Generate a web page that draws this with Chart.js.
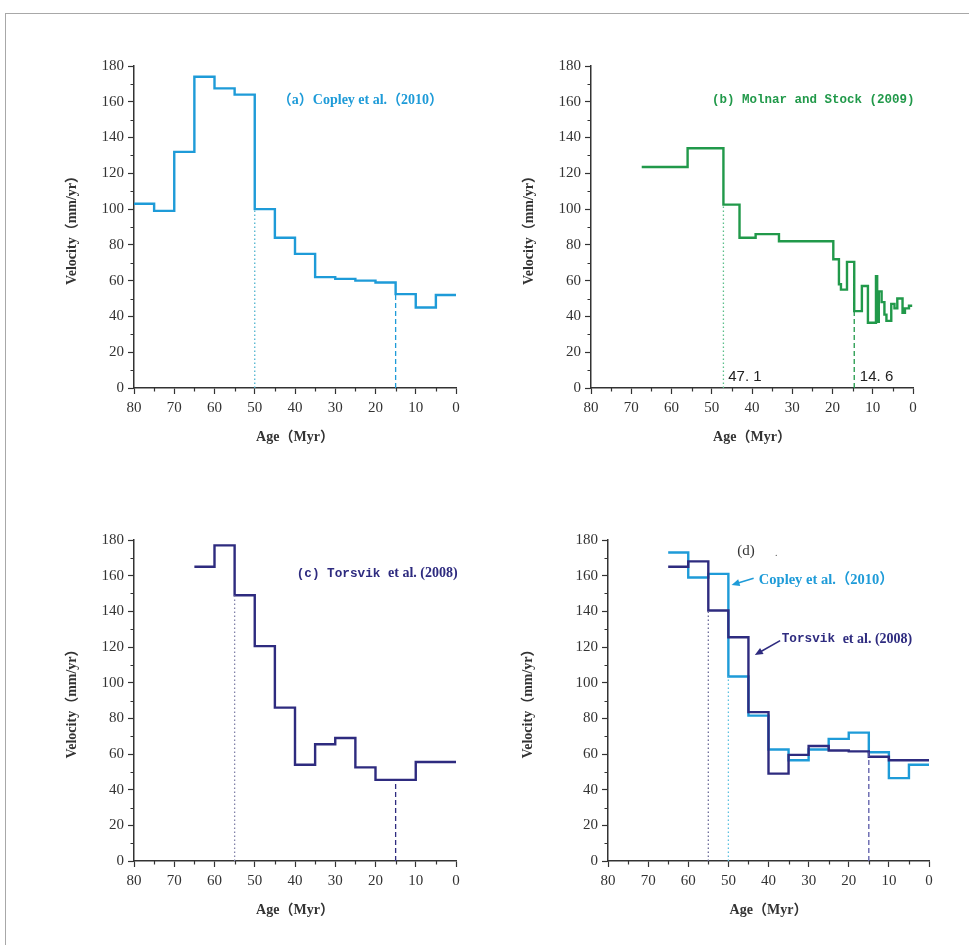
<!DOCTYPE html>
<html>
<head>
<meta charset="utf-8">
<script src="https://cdn.jsdelivr.net/npm/chart.js@4.4.1/dist/chart.umd.min.js"></script>
<style>
  body { margin: 0; background: #fff; width: 969px; height: 945px; position: relative; overflow: hidden; }
  #frame { position: absolute; left: 5px; top: 13px; width: 990px; height: 990px; border-top: 1px solid #a8a8a8; border-left: 1px solid #a8a8a8; }
  canvas { position: absolute; }
</style>
</head>
<body>
<div id="frame"></div>
<canvas id="chartA" width="440" height="400" style="left:40px;top:50px"></canvas>
<canvas id="chartB" width="440" height="400" style="left:497px;top:50px"></canvas>
<canvas id="chartC" width="440" height="399" style="left:40px;top:524px"></canvas>
<canvas id="chartD" width="439" height="399" style="left:514px;top:524px"></canvas>
<script>
// Данные панели (a): Copley et al. (2010), начало каждого интервала (млн лет) и скорость
const copleyAgeA = [80, 75, 70, 65, 60, 55, 50, 45, 40, 35, 30, 25, 20, 15, 10, 5, 0];
const copleyVelA = [103, 99, 132, 174, 167.5, 164, 100, 84, 75, 62, 61, 60, 59, 52.5, 45, 52, 52];

// Панель (b): Molnar and Stock (2009)
const molnarAge = [67.4, 56, 47.1, 43.1, 39.1, 33.3, 19.8, 18.4, 17.9, 16.4, 14.6, 12.7, 11.2, 9.2, 8.9, 8.5, 7.8, 7.1, 6.6, 5.4, 4.6, 3.9, 2.6, 2.0, 1.0, 0.2];
const molnarVel = [123.5, 134, 102.5, 84, 86, 82, 72, 58, 55, 70.5, 43, 57, 36.5, 62.5, 37, 54, 48, 41, 37.5, 47, 44.5, 50, 42, 44.5, 46, 46];

// Панель (c): Torsvik et al. (2008)
const torsvikAgeC = [65, 60, 55, 50, 45, 40, 35, 30, 25, 20, 15, 10, 5, 0];
const torsvikVelC = [165, 177, 149, 120.5, 86, 54, 65.5, 69, 52.5, 45.5, 45.5, 55.5, 55.5, 55.5];

// Панель (d): сравнение двух моделей
const compareAge = [65, 60, 55, 50, 45, 40, 35, 30, 25, 20, 15, 10, 5, 0];
const copleyVelD = [173, 159, 161, 103.5, 81.5, 62.5, 56.5, 62.5, 68.5, 72, 61, 46.5, 54, 54];
const torsvikVelD = [165, 168, 140.5, 125.5, 83.5, 49, 59.5, 64.5, 62, 61.5, 58.5, 56.5, 56.5, 56.5];

// Вертикальные отметки: возраст и высота линии
const markAgeA = [50, 15];   const markTopA = [100, 52.5];
const markAgeB = [47.1, 14.6]; const markTopB = [102.5, 43];
const markAgeC = [55, 15];   const markTopC = [149, 45.5];
const markAgeD = [55, 50, 15]; const markTopD = [140.5, 103.5, 61];

const xTicks = [80, 70, 60, 50, 40, 30, 20, 10, 0];
const yTicks = [0, 20, 40, 60, 80, 100, 120, 140, 160, 180];

const BLUE = '#1e9bd8';
const GREEN = '#21994a';
const NAVY = '#2e2b7f';
const AXIS = '#333';
const SERIF = '"Liberation Serif", "Noto Sans CJK SC", serif';
const MONO = '"Liberation Mono", "DejaVu Sans Mono", monospace';

function stepPoints(ages, vels) {
    return ages.map((a, i) => ({ x: a, y: vels[i] }));
}

function stepSet(ages, vels, color) {
    return {
        data: stepPoints(ages, vels),
        borderColor: color,
        borderWidth: 2.4,
        stepped: 'before',
        pointRadius: 0,
        fill: false
    };
}

function markSet(age, top, color, dash) {
    return {
        data: [{ x: age, y: 0 }, { x: age, y: top }],
        borderColor: color,
        borderWidth: 1.3,
        borderDash: dash,
        pointRadius: 0,
        fill: false
    };
}

const DOT = [1.5, 2.5];
const DASH = [5, 3];

// Короткие промежуточные деления осей
const minorTicks = {
    id: 'minorTicks',
    afterDraw(chart) {
        const { ctx, chartArea, scales: { x, y } } = chart;
        ctx.save();
        ctx.strokeStyle = AXIS;
        ctx.lineWidth = 1.2;
        ctx.beginPath();
        for (let v = 5; v < 80; v += 10) {
            const px = Math.round(x.getPixelForValue(v)) + 0.5;
            ctx.moveTo(px, chartArea.bottom);
            ctx.lineTo(px, chartArea.bottom + 3.5);
        }
        for (let v = 10; v < 180; v += 20) {
            const py = Math.round(y.getPixelForValue(v)) + 0.5;
            ctx.moveTo(chartArea.left, py);
            ctx.lineTo(chartArea.left - 3.5, py);
        }
        ctx.stroke();
        ctx.restore();
    }
};

// Подписи и стрелки в координатах данных
const panelNotes = {
    id: 'panelNotes',
    afterDatasetsDraw(chart, args, opts) {
        const { ctx, scales: { x, y } } = chart;
        ctx.save();
        (opts.arrows || []).forEach(a => {
            const x0 = x.getPixelForValue(a.from[0]), y0 = y.getPixelForValue(a.from[1]);
            const x1 = x.getPixelForValue(a.to[0]), y1 = y.getPixelForValue(a.to[1]);
            const ang = Math.atan2(y1 - y0, x1 - x0);
            ctx.strokeStyle = a.color;
            ctx.fillStyle = a.color;
            ctx.lineWidth = 1.6;
            ctx.beginPath();
            ctx.moveTo(x0, y0);
            ctx.lineTo(x1 - 5 * Math.cos(ang), y1 - 5 * Math.sin(ang));
            ctx.stroke();
            ctx.beginPath();
            ctx.moveTo(x1, y1);
            ctx.lineTo(x1 - 8 * Math.cos(ang) + 3.5 * Math.sin(ang), y1 - 8 * Math.sin(ang) - 3.5 * Math.cos(ang));
            ctx.lineTo(x1 - 8 * Math.cos(ang) - 3.5 * Math.sin(ang), y1 - 8 * Math.sin(ang) + 3.5 * Math.cos(ang));
            ctx.closePath();
            ctx.fill();
        });
        (opts.texts || []).forEach(t => {
            ctx.textBaseline = 'middle';
            ctx.textAlign = 'left';
            let total = 0;
            t.parts.forEach(p => { ctx.font = p.font; total += ctx.measureText(p.t).width; });
            let px = x.getPixelForValue(t.x);
            if (t.align === 'right') px -= total;
            const py = y.getPixelForValue(t.y);
            t.parts.forEach(p => {
                ctx.font = p.font;
                ctx.fillStyle = p.color;
                ctx.fillText(p.t, px, py);
                px += ctx.measureText(p.t).width;
            });
        });
        ctx.restore();
    }
};

function makeChart(id, datasets, notes, yTitlePad) {
    const ctx = document.getElementById(id).getContext('2d');
    return new Chart(ctx, {
        type: 'line',
        data: { datasets: datasets },
        options: {
            responsive: false,
            animation: false,
            devicePixelRatio: 1,
            layout: { padding: { left: 0, top: 16, right: 24, bottom: 0 } },
            plugins: {
                legend: { display: false },
                tooltip: { enabled: false },
                panelNotes: notes
            },
            scales: {
                x: {
                    type: 'linear',
                    reverse: true,
                    min: 0,
                    max: 80,
                    afterBuildTicks: s => { s.ticks = xTicks.map(v => ({ value: v })); },
                    ticks: { color: AXIS, font: { family: SERIF, size: 15 }, padding: 5, maxRotation: 0 },
                    grid: { drawOnChartArea: false, tickLength: 6, tickColor: AXIS, tickWidth: 1.2 },
                    border: { color: AXIS, width: 1.5 },
                    title: {
                        display: true, text: 'Age（Myr）', color: AXIS,
                        font: { family: SERIF, size: 14, weight: 'bold' },
                        padding: { top: 0, bottom: 4 }
                    },
                    afterFit: s => { s.height = 62; }
                },
                y: {
                    type: 'linear',
                    min: 0,
                    max: 180,
                    afterBuildTicks: s => { s.ticks = yTicks.map(v => ({ value: v })); },
                    ticks: { color: AXIS, font: { family: SERIF, size: 15 }, padding: 4 },
                    grid: { drawOnChartArea: false, tickLength: 6, tickColor: AXIS, tickWidth: 1.2 },
                    border: { color: AXIS, width: 1.5 },
                    title: {
                        display: true, text: 'Velocity（mm/yr）', color: AXIS,
                        font: { family: SERIF, size: 14, weight: 'bold' },
                        padding: { top: yTitlePad, bottom: 0 }
                    },
                    afterFit: s => { s.width = 94; }
                }
            }
        },
        plugins: [minorTicks, panelNotes]
    });
}

const BOLD14 = 'bold 14px ' + SERIF;
const MONO13 = 'bold 12.5px ' + MONO;
const MONO_C = 'bold 12.7px ' + MONO;

// (a)
makeChart('chartA', [
    markSet(markAgeA[0], markTopA[0], '#4fb3cf', DOT),
    markSet(markAgeA[1], markTopA[1], BLUE, DASH),
    stepSet(copleyAgeA, copleyVelA, BLUE)
], {
    texts: [{ x: 3.2, y: 161, align: 'right', parts: [{ t: '（a）Copley et al.（2010）', font: BOLD14, color: BLUE }] }]
}, 24);

// (b)
makeChart('chartB', [
    markSet(markAgeB[0], markTopB[0], '#5cbf8a', DOT),
    markSet(markAgeB[1], markTopB[1], GREEN, DASH),
    stepSet(molnarAge, molnarVel, GREEN)
], {
    texts: [
        { x: -0.4, y: 161, align: 'right', parts: [{ t: '(b) Molnar and Stock (2009)', font: MONO13, color: GREEN }] },
        { x: 45.9, y: 6.3, align: 'left', parts: [{ t: '47. 1', font: '15px "Liberation Sans", sans-serif', color: '#222' }] },
        { x: 13.2, y: 6.3, align: 'left', parts: [{ t: '14. 6', font: '15px "Liberation Sans", sans-serif', color: '#222' }] }
    ]
}, 24);

// (c)
makeChart('chartC', [
    markSet(markAgeC[0], markTopC[0], '#8080a8', DOT),
    markSet(markAgeC[1], markTopC[1], NAVY, DASH),
    stepSet(torsvikAgeC, torsvikVelC, NAVY)
], {
    texts: [{ x: -0.4, y: 161.3, align: 'right', parts: [
        { t: '(c) Torsvik ', font: MONO_C, color: NAVY },
        { t: 'et al. (2008)', font: BOLD14, color: NAVY }
    ] }]
}, 24);

// (d)
makeChart('chartD', [
    markSet(markAgeD[0], markTopD[0], '#6a6a98', DOT),
    markSet(markAgeD[1], markTopD[1], '#5cc0e0', DOT),
    markSet(markAgeD[2], markTopD[2], '#5a5aa8', DASH),
    stepSet(compareAge, torsvikVelD, NAVY),
    stepSet(compareAge, copleyVelD, BLUE)
], {
    texts: [
        { x: 47.8, y: 173.9, align: 'left', parts: [{ t: '(d)', font: '15px ' + SERIF, color: '#333' }] },
        { x: 38.4, y: 172.7, align: 'left', parts: [{ t: '.', font: '10px ' + SERIF, color: '#555' }] },
        { x: 42.4, y: 157.6, align: 'left', parts: [{ t: 'Copley et al.（2010）', font: 'bold 14.5px ' + SERIF, color: BLUE }] },
        { x: 36.7, y: 124.5, align: 'left', parts: [
            { t: 'Torsvik ', font: MONO_C, color: NAVY },
            { t: 'et al. (2008)', font: BOLD14, color: NAVY }
        ] }
    ],
    arrows: [
        { from: [43.7, 158.6], to: [49.2, 154.8], color: BLUE },
        { from: [37.1, 123.6], to: [43.4, 115.5], color: NAVY }
    ]
}, 6);
</script>
</body>
</html>
